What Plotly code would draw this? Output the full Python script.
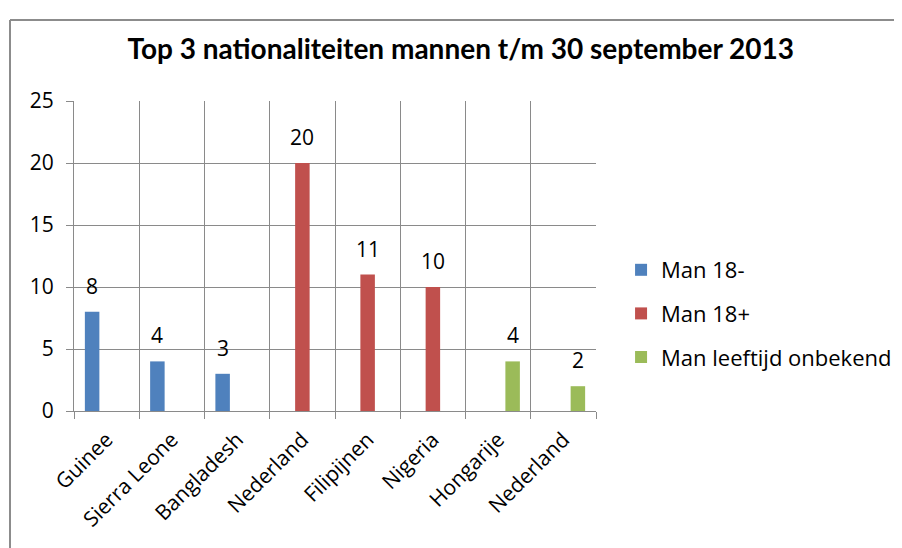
import plotly.graph_objects as go

# Data
countries = ["Guinee", "Sierra Leone", "Bangladesh", "Nederland",
             "Filipijnen", "Nigeria", "Hongarije", "Nederland"]
man_min18 = [8, 4, 3, None, None, None, None, None]
man_plus18 = [None, None, None, 20, 11, 10, None, None]
man_onbekend = [None, None, None, None, None, None, 4, 2]
series_names = ["Man 18-", "Man 18+", "Man leeftijd onbekend"]

colors = ["#4F81BD", "#C0504D", "#9BBB59"]
grid = "#8A8A8A"
font_main = "Open Sans"

positions = list(range(len(countries)))
series = [man_min18, man_plus18, man_onbekend]

# Excel style grouping: 3 slots of 2/9 plus gap of 1/3
slot = 2 / 9
shifts = [-slot, 0, slot]

fig = go.Figure()
for i, (name, vals) in enumerate(zip(series_names, series)):
    fig.add_trace(go.Bar(
        x=positions,
        y=vals,
        name=name,
        legendgroup=name,
        marker=dict(color=colors[i], line=dict(width=0)),
        hoverinfo="skip",
    ))
    # data labels above the bars
    for p, v in zip(positions, vals):
        if v is None:
            continue
        fig.add_annotation(
            x=p + shifts[i], y=v, text=str(v), showarrow=False,
            yshift=26, font=dict(family=font_main, size=21, color="#000000"),
        )

# the page adds an 8px body margin, so the plot box is set 8px up/left
fig.update_layout(
    width=902,
    height=548,
    margin=dict(l=66, r=314, t=93, b=145),
    paper_bgcolor="white",
    plot_bgcolor="white",
    barmode="group",
    bargap=1 / 3,
    bargroupgap=0,
    title=dict(
        text="<b>Top 3 nationaliteiten mannen t/m 30 september 2013</b>",
        x=0.502, xanchor="center", y=0.924, yanchor="middle",
        font=dict(family="Lato", size=28, color="#000000"),
    ),
    font=dict(family=font_main, size=20, color="#000000"),
    legend=dict(
        x=1.048, xanchor="left", y=0.3145, yanchor="middle",
        font=dict(family=font_main, size=22, color="#000000"),
        tracegroupgap=12,
        bgcolor="rgba(0,0,0,0)",
    ),
    showlegend=True,
)

fig.update_xaxes(
    type="linear",
    range=[-0.5, len(countries) - 0.5],
    tickmode="array",
    tickvals=positions,
    ticktext=countries,
    tickangle=-45,
    ticks="outside",
    ticklen=7,
    tickcolor="rgba(0,0,0,0)",
    showgrid=False,
    zeroline=False,
    showline=True,
    linecolor=grid,
    linewidth=1,
    tickfont=dict(family=font_main, size=21, color="#000000"),
    minor=dict(
        tick0=-0.5, dtick=1, ticks="outside", ticklen=7,
        tickcolor=grid, showgrid=True, gridcolor=grid, gridwidth=1,
    ),
)

fig.update_yaxes(
    range=[0, 25],
    dtick=5,
    ticks="outside",
    ticklen=7,
    tickcolor=grid,
    showgrid=True,
    gridcolor=grid,
    gridwidth=1,
    zeroline=False,
    showline=True,
    linecolor=grid,
    linewidth=1,
    ticklabelstandoff=8,
    tickfont=dict(family=font_main, size=21, color="#000000"),
)

# outer chart frame (only the left and top edges are inside the picture)
frame = dict(color="#8C8C8C", width=2)
fig.add_shape(type="line", xref="paper", yref="paper",
              x0=-0.1226, y0=1.261, x1=-0.1226, y1=-1, line=frame)
fig.add_shape(type="line", xref="paper", yref="paper",
              x0=-0.1226, y0=1.261, x1=2, y1=1.261, line=frame)

fig.write_html("out.html")
